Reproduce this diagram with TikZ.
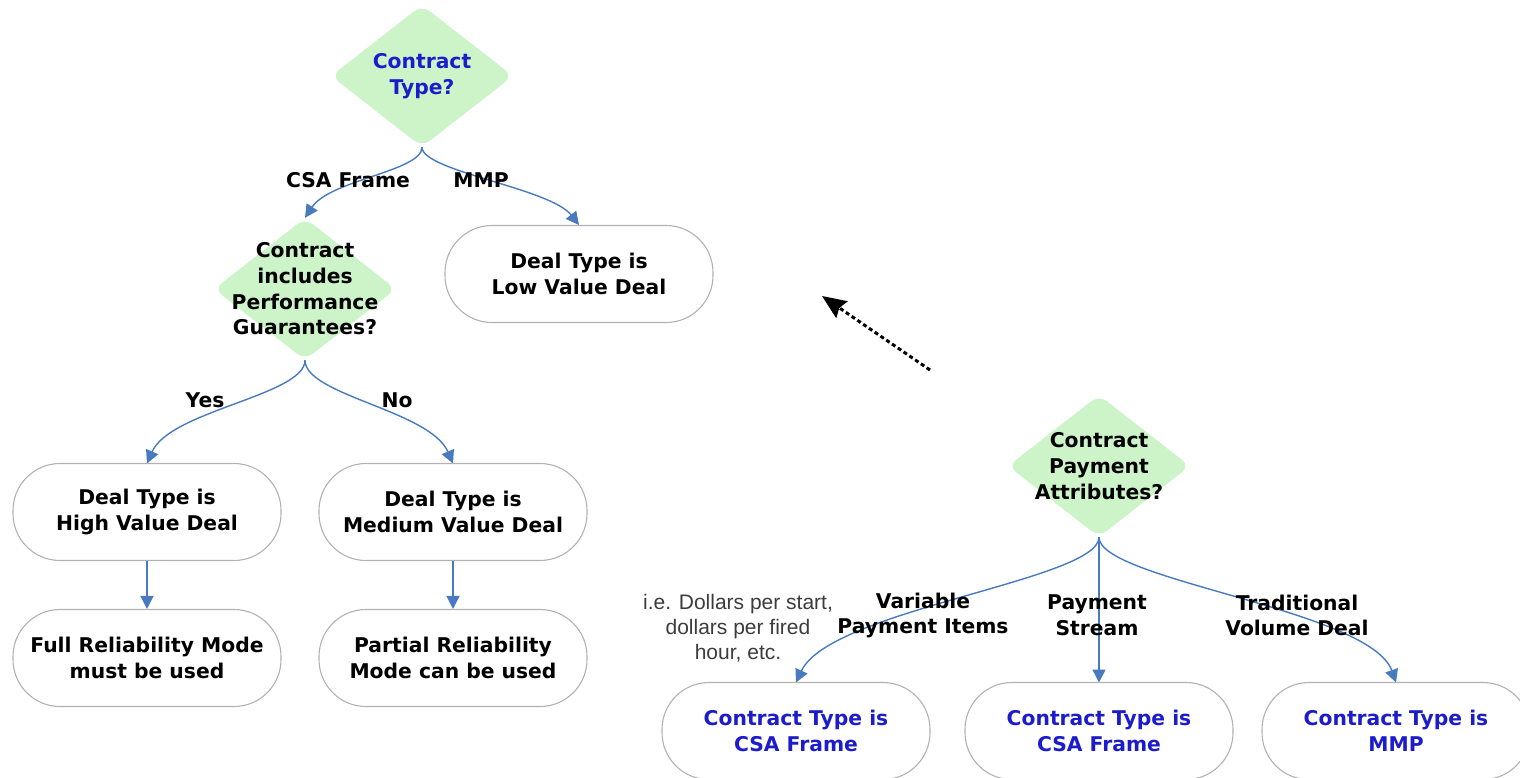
\documentclass[tikz,border=0pt]{standalone}
\usepackage{fontspec}
\setmainfont{DejaVu Sans}
\newfontfamily\notefont{Liberation Sans}
\usetikzlibrary{shapes.geometric,arrows.meta}
\definecolor{qgreen}{RGB}{205,244,200}
\definecolor{qblue}{RGB}{28,28,205}
\definecolor{linkblue}{RGB}{72,122,192}
\definecolor{boxgray}{RGB}{178,178,178}
\definecolor{notegray}{RGB}{60,60,60}
\newcommand{\boldtext}{\fontsize{20.3}{25.7}\selectfont\bfseries}
\newcommand{\notetext}{\notefont\fontsize{21}{25}\selectfont}
\tikzset{
  decision/.style={diamond, fill=qgreen, draw=none, inner sep=0pt,
    minimum width=182pt, minimum height=142pt, rounded corners=10pt},
  qtext/.style={align=center, font=\boldtext, inner sep=0pt},
  outcome/.style={rectangle, draw=boxgray, line width=1.1pt, fill=white,
    rounded corners=47pt, minimum width=268pt, minimum height=97pt,
    align=center, font=\boldtext},
  branch/.style={align=center, font=\boldtext, inner sep=0pt},
  note/.style={align=center, font=\notetext, text=notegray, inner sep=0pt},
  link/.style={draw=linkblue, line width=1.4pt,
    -{Triangle[length=13pt,width=13pt]}},
  hint/.style={draw=black, line width=3pt, dash pattern=on 4pt off 3pt,
    -{Stealth[length=24pt,width=20pt,inset=3pt]}}
}
\begin{document}
\begin{tikzpicture}[x=1pt,y=-1pt]
\useasboundingbox (0,0) rectangle (1520,777);

% decisions
\node[decision] (typeq) at (422,76) {};
\node[qtext,text=qblue] (typeqtext) at (typeq) {Contract\\Type?};
\node[decision] (perfq) at (305,289) {};
\node[qtext] (perfqtext) at (perfq) {Contract\\includes\\Performance\\Guarantees?};
\node[decision] (payq) at (1099,466) {};
\node[qtext] (payqtext) at (payq) {Contract\\Payment\\Attributes?};

% connectors (drawn below the boxes)
\draw[link] (typeq.south) .. controls +(0,24) and +(25,-38) .. (perfq.north);
\draw[link] (typeq.south) .. controls +(0,24) and +(-29,-37) .. (579,225);
\draw[link] (perfq.south) .. controls +(0,35) and +(23,-53) .. (147,463.5);
\draw[link] (perfq.south) .. controls +(0,35) and +(-23,-53) .. (453,463.5);
\draw[link] (payq.south) .. controls +(0,43) and +(34,-73) .. (796,682.5);
\draw[link] (payq.south) -- (1099,682.5);
\draw[link] (payq.south) .. controls +(0,43) and +(-26,-73) .. (1396,682.5);

% outcomes
\node[outcome] (low) at (579,274) {Deal Type is\\Low Value Deal};
\node[outcome] (high) at (147,512) {Deal Type is\\High Value Deal};
\node[outcome] (med) at (453,512) {Deal Type is\\Medium Value Deal};
\node[outcome] (full) at (147,658) {Full Reliability Mode\\must be used};
\node[outcome] (part) at (453,658) {Partial Reliability\\Mode can be used};
\node[outcome,text=qblue] (csavar) at (796,731) {Contract Type is\\CSA Frame};
\node[outcome,text=qblue] (csastream) at (1099,731) {Contract Type is\\CSA Frame};
\node[outcome,text=qblue] (mmpbox) at (1396,731) {Contract Type is\\MMP};

\draw[link] (high) -- (full);
\draw[link] (med) -- (part);

% branch labels
\node[branch] (lcsa) at (348,180) {CSA Frame};
\node[branch] (lmmp) at (481,180) {MMP};
\node[branch] (lyes) at (205,400) {Yes};
\node[branch] (lno) at (397,400) {No};
\node[branch] (lvar) at (923,615.5) {Variable\\Payment Items};
\node[branch] (lstream) at (1097,615.5) {Payment\\Stream};
\node[branch] (ltrad) at (1297,615.5) {Traditional\\Volume Deal};
\node[note] (varnote) at (738,628) {i.e. Dollars per start,\\dollars per fired\\hour, etc.};

% hint arrow between the two trees
\coordinate (hintfrom) at (930,370);
\coordinate (hintto) at (822,296);
\draw[hint] (hintfrom) -- (hintto);
\end{tikzpicture}
\end{document}
